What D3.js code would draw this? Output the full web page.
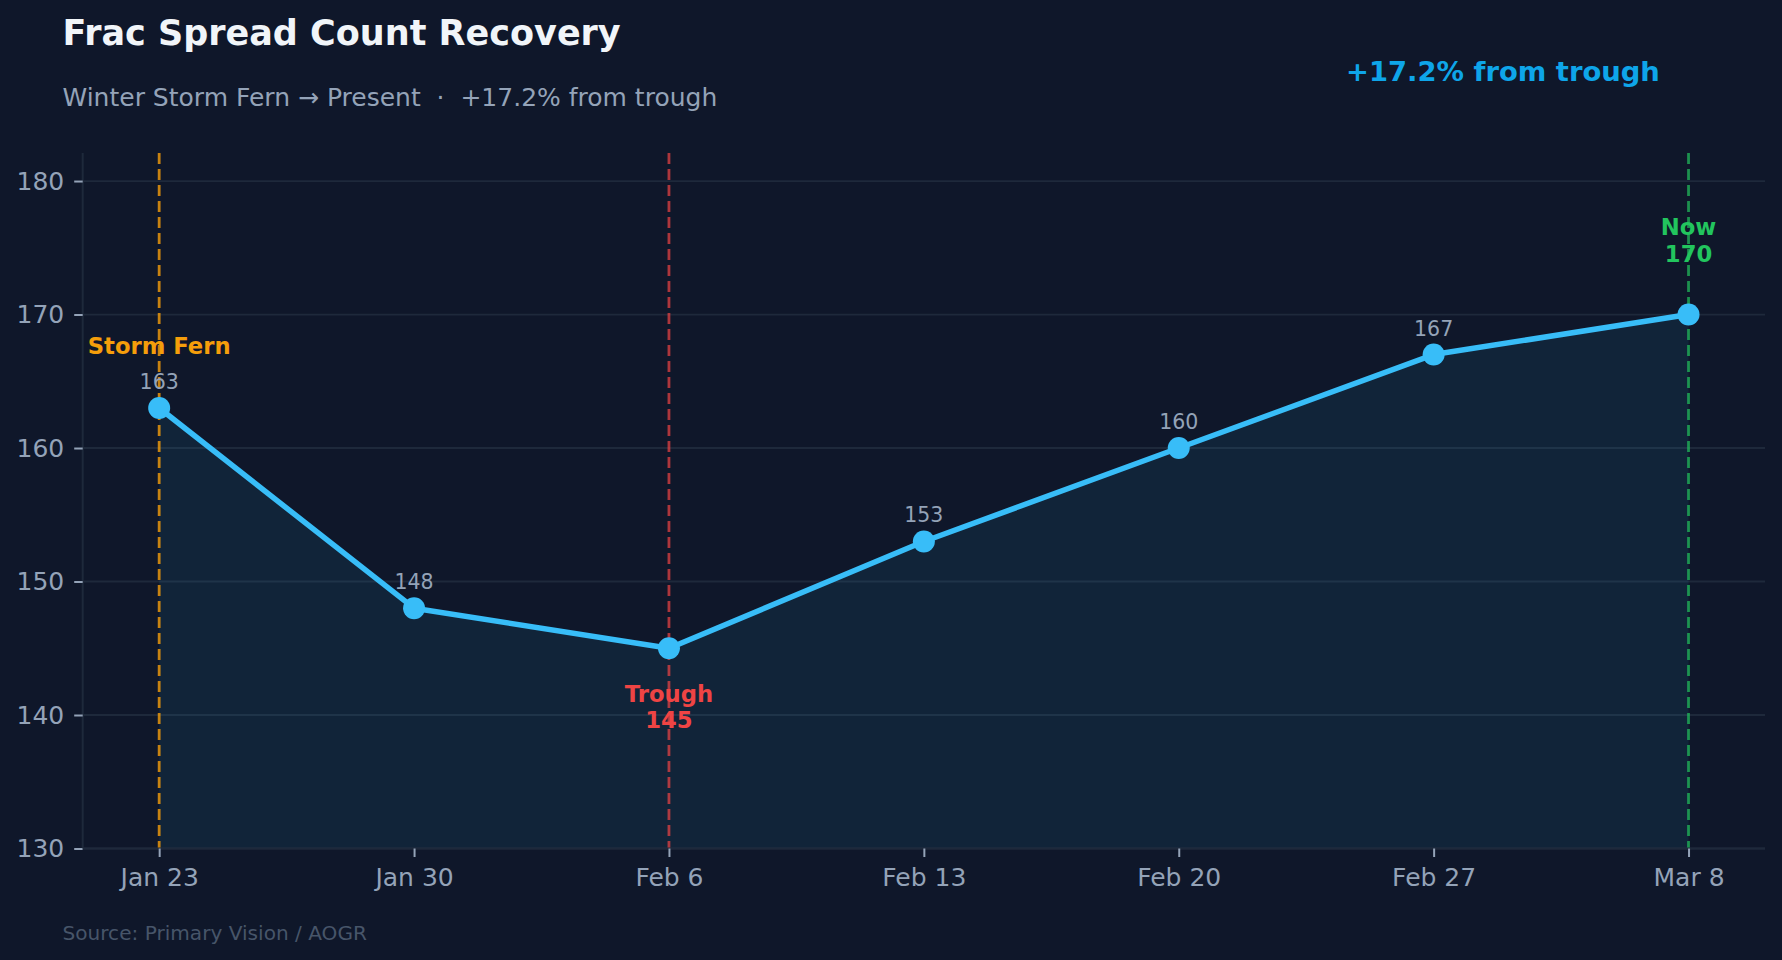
<!DOCTYPE html>
<html>
<head>
<meta charset="utf-8">
<script src="https://cdn.jsdelivr.net/npm/d3@7"></script>
<style>
  html, body { margin: 0; padding: 0; background: #0f172a; }
  svg { display: block; font-family: "DejaVu Sans", sans-serif; }
  text { white-space: pre; }
</style>
</head>
<body>
<svg id="chart" width="1782" height="960"></svg>
<script>
// ---- data ----
const categories = ["Jan 23", "Jan 30", "Feb 6", "Feb 13", "Feb 20", "Feb 27", "Mar 8"];
const fracSpreads = [163, 148, 145, 153, 160, 167, 170];
const yTicks = [130, 140, 150, 160, 170, 180];
const yDomain = [130, 182.1];
const titleText = "Frac Spread Count Recovery";
const subtitleText = "Winter Storm Fern \u2192 Present  \u00b7  +17.2% from trough";
const badgeText = "+17.2% from trough";
const sourceText = "Source: Primary Vision / AOGR";
const events = [
  { cat: "Jan 23", lines: ["Storm Fern"], color: "#f59e0b", lineOpacity: 0.8, offsets: [-54] },
  { cat: "Feb 6", lines: ["Trough", "145"], color: "#ef4444", lineOpacity: 0.7, offsets: [54, 80] },
  { cat: "Mar 8", lines: ["Now", "170"], color: "#22c55e", lineOpacity: 0.7, offsets: [-80, -53] }
];
const labelledCats = ["Jan 23", "Jan 30", "Feb 13", "Feb 20", "Feb 27"];

// ---- layout ----
const svg = d3.select("#chart");
const W = 1782, H = 960;
const plot = { left: 82.7, right: 1765, top: 153, bottom: 848.5 };

svg.append("rect").attr("width", W).attr("height", H).attr("fill", "#0f172a");

const x = d3.scalePoint().domain(categories).range([plot.left, plot.right]).padding(0.3);
const y = d3.scaleLinear().domain(yDomain).range([plot.bottom, plot.top]);

const data = categories.map((c, i) => ({ cat: c, v: fracSpreads[i] }));

// grid
svg.append("g").selectAll("line").data(yTicks).join("line")
  .attr("x1", plot.left).attr("x2", plot.right)
  .attr("y1", d => y(d)).attr("y2", d => y(d))
  .attr("stroke", "#1e293b").attr("stroke-width", 1.8);

// area fill
const area = d3.area().x(d => x(d.cat)).y0(y(yDomain[0])).y1(d => y(d.v));
svg.append("path").datum(data).attr("d", area)
  .attr("fill", "#38bdf8").attr("fill-opacity", 0.08);

// event vertical lines
svg.append("g").selectAll("line").data(events).join("line")
  .attr("x1", d => x(d.cat)).attr("x2", d => x(d.cat))
  .attr("y1", plot.top).attr("y2", plot.bottom)
  .attr("stroke", d => d.color).attr("stroke-opacity", d => d.lineOpacity)
  .attr("stroke-width", 2.8).attr("stroke-dasharray", "11,5");

// axes
const yAxis = d3.axisLeft(y).tickValues(yTicks).tickSize(8.5).tickPadding(10);
const gy = svg.append("g").attr("transform", `translate(${plot.left},0)`).call(yAxis);
const xAxis = d3.axisBottom(x).tickSize(8.5).tickPadding(11);
const gx = svg.append("g").attr("transform", `translate(0,${plot.bottom})`).call(xAxis);
[gx, gy].forEach(g => {
  g.select(".domain").attr("stroke", "#1e293b").attr("stroke-width", 2);
  g.selectAll(".tick line").attr("stroke", "#94a3b8").attr("stroke-width", 2);
  g.selectAll(".tick text").attr("fill", "#94a3b8").attr("font-size", 25)
    .attr("font-family", "DejaVu Sans, sans-serif");
});
gy.select(".domain").attr("d", `M0,${plot.top}V${plot.bottom}`);
gx.select(".domain").attr("d", `M${plot.left},0H${plot.right}`);

// line
const line = d3.line().x(d => x(d.cat)).y(d => y(d.v));
svg.append("path").datum(data).attr("d", line)
  .attr("fill", "none").attr("stroke", "#38bdf8").attr("stroke-width", 5.5)
  .attr("stroke-linejoin", "round");

// points
svg.append("g").selectAll("circle").data(data).join("circle")
  .attr("cx", d => x(d.cat)).attr("cy", d => y(d.v)).attr("r", 11)
  .attr("fill", "#38bdf8");

// value labels
svg.append("g").selectAll("text").data(data.filter(d => labelledCats.includes(d.cat))).join("text")
  .attr("x", d => x(d.cat)).attr("y", d => y(d.v) - 19)
  .attr("text-anchor", "middle").attr("fill", "#94a3b8").attr("font-size", 20.5)
  .text(d => d.v);

// event annotations
events.forEach(ev => {
  const v = fracSpreads[categories.indexOf(ev.cat)];
  ev.lines.forEach((t, i) => {
    svg.append("text")
      .attr("x", x(ev.cat)).attr("y", y(v) + ev.offsets[i])
      .attr("text-anchor", "middle").attr("fill", ev.color)
      .attr("font-size", 22.7).attr("font-weight", "bold").text(t);
  });
});

// titles
svg.append("text").attr("x", 62.5).attr("y", 45).attr("fill", "#f1f5f9")
  .attr("font-size", 35).attr("font-weight", "bold").text(titleText);
svg.append("text").attr("x", 62.5).attr("y", 106).attr("fill", "#94a3b8")
  .attr("font-size", 25).text(subtitleText);
svg.append("text").attr("x", 1346).attr("y", 80.5).attr("fill", "#0ea5e9")
  .attr("font-size", 27.4).attr("font-weight", "bold").text(badgeText);
svg.append("text").attr("x", 62.5).attr("y", 940).attr("fill", "#475569")
  .attr("font-size", 20.1).text(sourceText);
</script>
</body>
</html>
